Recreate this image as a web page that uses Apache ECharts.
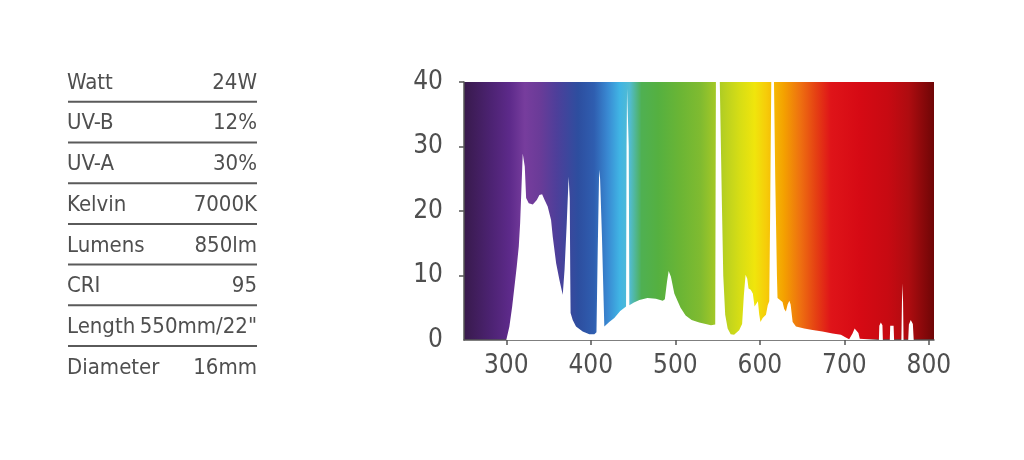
<!DOCTYPE html>
<html>
<head>
<meta charset="utf-8">
<script src="https://cdn.jsdelivr.net/npm/echarts@6/dist/echarts.min.js"></script>
<style>
html,body{margin:0;padding:0;background:#fff;}
#chart{width:1024px;height:460px;}
</style>
</head>
<body>
<div id="chart"></div>
<script>
// ---- data ----
const specLabels = ['Watt', 'UV-B', 'UV-A', 'Kelvin', 'Lumens', 'CRI', 'Length', 'Diameter'];
const specValues = ['24W', '12%', '30%', '7000K', '850lm', '95', '550mm/22"', '16mm'];

const xTicks = [300, 400, 500, 600, 700, 800];
const yTicks = [0, 10, 20, 30, 40];

const wavelength = [
  250, 300, 301.7, 303.7, 307, 309.7, 312.4, 314.8, 316.4, 317.9, 319.5, 320.5, 321.9, 323.5,
  326.6, 331.4, 336.1, 339.2, 342.4, 345.1, 349, 353, 355, 359, 362.9, 366.8,
  369, 371.5, 373.8, 375.1, 375.7, 376.1, 378.6, 382.5, 384.6, 390.4, 398.3, 404.2,
  406.7, 408.2, 409.9, 411, 413.2, 415.2, 416, 421.8, 427.8, 434.8,
  441.7, 442.3, 442.9, 443.9, 444.9, 445.6, 451, 457.5, 467, 477, 485.1,
  487.6, 490.1, 492.1, 494.8, 498.8, 502.8, 506.2, 512.2, 519.3, 528.3, 542.2,
  547.2, 548, 552.6, 555.2, 556.7, 559, 561.9, 565.5, 569.5, 575.5, 579,
  581.1, 583.1, 585.1, 586.6, 589.2, 591.7, 593.7, 595.7, 597.7, 599.2, 600.7, 603.3, 607.2, 609.3,
  611.1, 612.2, 613.5, 616.7, 618.2, 620.2, 620.9, 623, 626.8, 628.8, 630.8, 632.8, 634.9, 636.4,
  638.8, 642.7, 652.5, 662.4, 674, 686, 695.9, 701.7, 705.6,
  709.6, 712.1, 714.3, 716.6, 718.2, 719.1,
  740.8, 741.3, 743.1, 745, 745.5,
  753.7, 754.2, 756.1, 758.2, 758.8,
  767.4, 768.1, 768.7, 769.4, 770,
  775.5, 776.3, 778.5, 781, 782, 806
];
const intensity = [
  0, 0, 0, 2.1, 5.2, 8.3, 11.4, 14.5, 18.1, 23.3, 28.9, 29.2, 26.9, 22.0,
  21.2, 21.0, 21.7, 22.5, 22.6, 21.8, 20.7, 18.6, 16.0, 11.9, 9.3, 7.0,
  11, 18, 25.3, 22, 10, 4.2, 3.1, 2.1, 1.8, 1.3, 0.9, 0.9,
  1.2, 14, 26.4, 25, 16, 6, 2.1, 2.8, 3.4, 4.5,
  5.2, 30, 39, 39, 30, 5.4, 5.8, 6.2, 6.5, 6.4, 6.1,
  6.3, 9, 10.7, 9.8, 7.2, 6.0, 5.0, 3.8, 3.1, 2.7, 2.3,
  2.4, 40, 40, 20.4, 10, 3.9, 1.8, 0.9, 0.8, 1.5, 2.5,
  7, 10.1, 9.5, 8, 7.8, 7.2, 5.2, 5.0, 6.0, 4, 2.8, 3.4, 3.9, 5.4,
  6, 20, 40, 40, 25, 10, 6.5, 6.3, 5.9, 4.8, 4.4, 5.5, 6.1, 5.5,
  2.8, 2.1, 1.8, 1.55, 1.3, 1.0, 0.8, 0.4, 0.1,
  1.0, 1.8, 2.0, 1.1, 0.2, 0,
  0, 2.2, 2.7, 2.3, 0,
  0, 2.2, 2.5, 2.2, 0,
  0, 6, 8.8, 6, 0,
  0, 2.4, 3.1, 2.5, 0, 0
];

// ---- styles ----
const X_MIN = 250, X_MAX = 806;
const spectrumStops = [
  [250, '#381a4c'], [280, '#4b2270'], [304, '#5d2a8a'], [322, '#773d9d'], [340, '#6a3b98'],
  [360, '#4d3f9a'], [385, '#2d4e9f'], [404, '#2f5eb0'], [420, '#3989d2'], [434, '#40b4e4'],
  [446, '#52bcd2'], [460, '#4fb052'], [480, '#55b040'], [505, '#6ab535'], [530, '#80bb30'],
  [558, '#b8d021'], [576, '#d6dd15'], [594, '#f0e50c'], [607, '#f6cd0a'], [628, '#f4a200'],
  [648, '#ee7010'], [666, '#e54113'], [684, '#df1419'], [718, '#d60a14'], [752, '#c70a12'],
  [776, '#ae0c10'], [806, '#6e0606']
];
const textColor = '#4f4f4f';
const axisFont = "'DejaVu Sans Condensed', 'DejaVu Sans', sans-serif";
const tableFont = "'DejaVu Sans Condensed', 'DejaVu Sans', sans-serif";

const chart = echarts.init(document.getElementById('chart'), null, { renderer: 'canvas' });

const bg = new echarts.graphic.LinearGradient(0, 0, 1, 0,
  spectrumStops.map(s => ({ offset: (s[0] - X_MIN) / (X_MAX - X_MIN), color: s[1] })));

const graphics = [];
const rowTop = 83, rowStep = 40.7, lineOffset = 18.8;
specLabels.forEach((lab, i) => {
  const y = rowTop + i * rowStep;
  graphics.push({
    type: 'text', left: 67, top: y - 11, silent: true,
    style: { text: lab, fill: textColor, font: '22px ' + tableFont }
  });
  graphics.push({
    type: 'text', right: 1024 - 257, top: y - 11, silent: true,
    style: { text: specValues[i], fill: textColor, font: '22px ' + tableFont, textAlign: 'right' }
  });
  if (i < specLabels.length - 1) {
    graphics.push({
      type: 'line', silent: true,
      shape: { x1: 68, y1: y + lineOffset, x2: 257, y2: y + lineOffset },
      style: { stroke: '#5a5a5a', lineWidth: 2 }
    });
  }
});

chart.setOption({
  animation: false,
  backgroundColor: '#fff',
  grid: {
    left: 464, right: 90, top: 82, bottom: 120,
    show: true, backgroundColor: bg, borderWidth: 0
  },
  xAxis: {
    type: 'value', min: X_MIN, max: X_MAX,
    axisLine: { show: true, onZero: false, lineStyle: { color: '#555', width: 1.5 } },
    axisTick: { show: true, length: 5, customValues: xTicks, lineStyle: { color: '#555', width: 1.5 } },
    axisLabel: { customValues: xTicks, color: textColor, fontSize: 26, fontFamily: axisFont, margin: 13 },
    splitLine: { show: false }
  },
  yAxis: {
    type: 'value', min: 0, max: 40, interval: 10,
    axisLine: { show: true, lineStyle: { color: '#555', width: 1.5 } },
    axisTick: { show: true, length: 5, customValues: yTicks.filter(v => v > 0), lineStyle: { color: '#555', width: 1.5 } },
    axisLabel: { customValues: yTicks, color: textColor, fontSize: 26, fontFamily: axisFont, margin: 21 },
    splitLine: { show: false }
  },
  series: [{
    type: 'line',
    data: wavelength.map((w, i) => [w, intensity[i]]),
    symbol: 'none',
    smooth: false,
    silent: true,
    lineStyle: { width: 0 },
    areaStyle: { color: '#ffffff', opacity: 1 },
    z: 1
  }],
  graphic: graphics
});
</script>
</body>
</html>
